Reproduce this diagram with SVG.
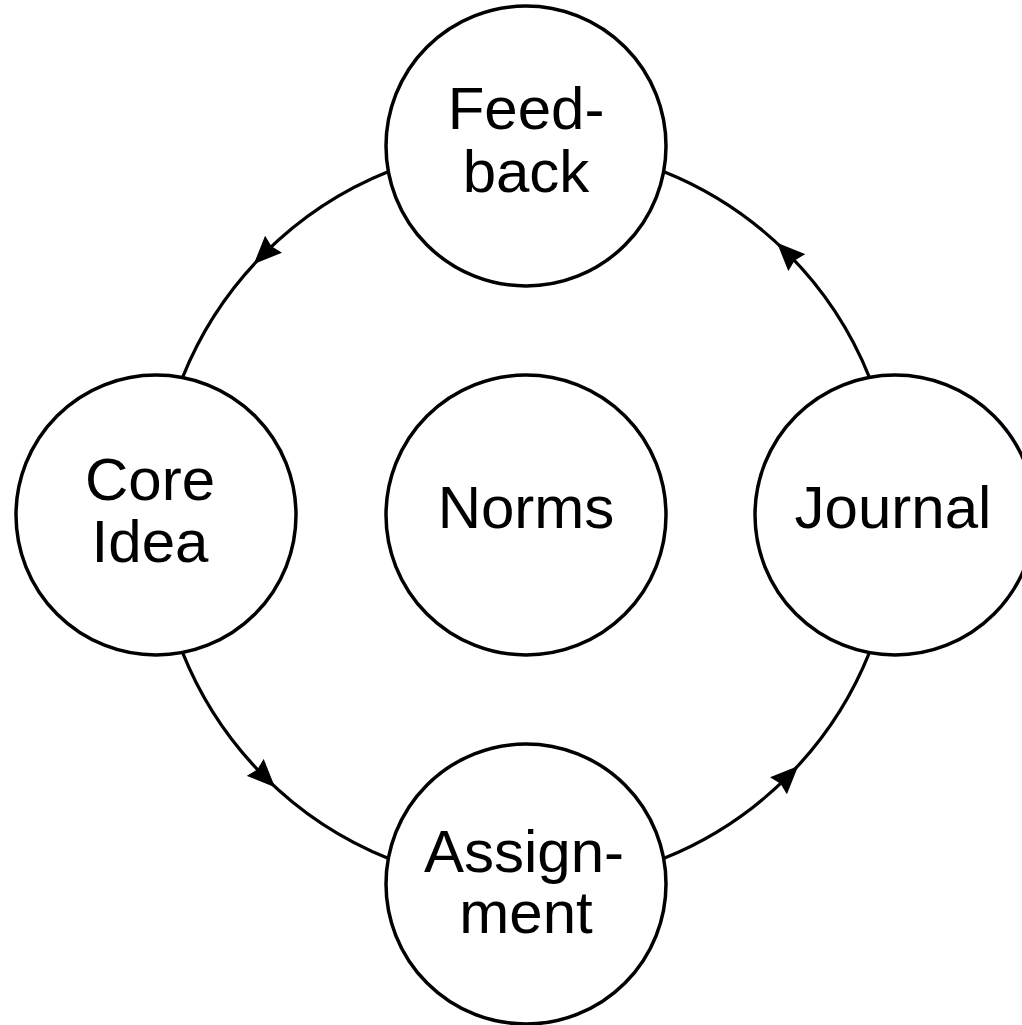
<svg xmlns="http://www.w3.org/2000/svg" width="1022" height="1025" viewBox="0 0 1022 1025">
<style>
.node{fill:#fff;stroke:#000;stroke-width:3.5}
.lbl{font-family:"Liberation Sans",Arial,sans-serif;font-size:60px;fill:#000;text-anchor:middle}
.conn{fill:none;stroke:#000;stroke-width:3.2;marker-mid:url(#ah)}
</style>
<defs>
<marker id="ah" markerUnits="userSpaceOnUse" markerWidth="28" markerHeight="24" viewBox="0 0 28 24" refX="13" refY="12" orient="auto">
<path d="M0,0 L28,12 L0,24 L3,12 z" fill="#000"/>
</marker>
</defs>
<rect width="1022" height="1025" fill="#fff"/>
<g id="connectors">
<path class="conn" d="M388.6,171.5 A370,370 0 0 0 264.4,253.4 A370,370 0 0 0 182.5,377.6"/>
<path class="conn" d="M182.5,652.4 A370,370 0 0 0 264.4,776.6 A370,370 0 0 0 388.6,858.5"/>
<path class="conn" d="M663.4,858.5 A370,370 0 0 0 787.6,776.6 A370,370 0 0 0 869.5,652.4"/>
<path class="conn" d="M869.5,377.6 A370,370 0 0 0 787.6,253.4 A370,370 0 0 0 663.4,171.5"/>
</g>
<g id="feedback">
<circle class="node" cx="526" cy="146" r="140"/>
<text class="lbl" x="526" y="129">Feed-</text>
<text class="lbl" x="526" y="192">back</text>
</g>
<g id="core-idea">
<circle class="node" cx="156" cy="515" r="140"/>
<text class="lbl" x="150" y="500">Core</text>
<text class="lbl" x="150" y="562">Idea</text>
</g>
<g id="norms">
<circle class="node" cx="526" cy="515" r="140"/>
<text class="lbl" x="526" y="528">Norms</text>
</g>
<g id="journal">
<circle class="node" cx="895" cy="515" r="140"/>
<text class="lbl" x="893" y="528">Journal</text>
</g>
<g id="assignment">
<circle class="node" cx="526" cy="884" r="140"/>
<text class="lbl" x="524" y="872">Assign-</text>
<text class="lbl" x="526" y="933">ment</text>
</g>
</svg>
